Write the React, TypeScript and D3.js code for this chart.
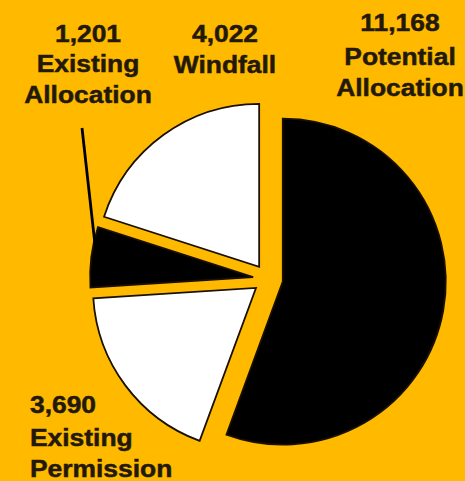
import React from "react";
import * as d3 from "d3";

const categories = ["Potential Allocation", "Existing Permission", "Existing Allocation", "Windfall"];
const values = [11168, 3690, 1201, 4022];
const fills = ["#000000", "#ffffff", "#000000", "#ffffff"];
const valueLabels = ["11,168", "3,690", "1,201", "4,022"];

const W = 465;
const H = 481;
const CX = 268;
const CY = 279;
const R = 163;
const EXPLODE = 15;
const SX = 1.1;

const labelLayout = [
  { x: 400, anchor: "middle", ys: [31, 65, 96], lines: ["Potential", "Allocation"] },
  { x: 30, anchor: "start", ys: [413, 446, 477], lines: ["Existing", "Permission"] },
  { x: 88, anchor: "middle", ys: [42, 72, 103], lines: ["Existing", "Allocation"] },
  { x: 225, anchor: "middle", ys: [42, 73], lines: ["Windfall"] },
];

export default function App() {
  const pie = d3
    .pie<number>()
    .sort(null)
    .value((d) => d)
    .startAngle(0)
    .endAngle(2 * Math.PI);
  const arcs = pie(values);
  const arc = d3.arc<d3.PieArcDatum<number>>().innerRadius(0).outerRadius(R);

  // leader line for Existing Allocation: from label into the slice
  const ea = arcs[2];
  const eaMid = (ea.startAngle + ea.endAngle) / 2;
  const eaOx = CX + Math.sin(eaMid) * EXPLODE;
  const eaOy = CY - Math.cos(eaMid) * EXPLODE;
  const leadA = eaMid + 0.05;
  const leadEnd = [eaOx + Math.sin(leadA) * (R - 3), eaOy - Math.cos(leadA) * (R - 3)];

  return (
    <svg
      width={W}
      height={H}
      style={{ position: "absolute", left: 0, top: 0, display: "block" }}
    >
      <rect x={0} y={0} width={W} height={H} fill="#FFBA00" />
      {arcs.map((a, i) => {
        const mid = (a.startAngle + a.endAngle) / 2;
        const dx = Math.sin(mid) * EXPLODE;
        const dy = -Math.cos(mid) * EXPLODE;
        return (
          <path
            key={categories[i]}
            d={arc(a) || ""}
            transform={`translate(${CX + dx},${CY + dy})`}
            fill={fills[i]}
            stroke="#1a1000"
            strokeWidth={1.8}
            strokeLinejoin="miter"
          />
        );
      })}
      <line
        x1={82}
        y1={128}
        x2={leadEnd[0]}
        y2={leadEnd[1]}
        stroke="#000"
        strokeWidth={2.8}
      />
      {labelLayout.map((l, i) => (
        <g key={categories[i]} transform={`translate(${l.x},0) scale(${SX},1)`}>
          <text
            textAnchor={l.anchor as any}
            fontFamily="'Liberation Sans', Arial, sans-serif"
            fontWeight="bold"
            fontSize={24}
            fill="#23190a"
            stroke="#23190a"
            strokeWidth={0.5}
          >
            <tspan x={0} y={l.ys[0]}>{valueLabels[i]}</tspan>
            {l.lines.map((t, j) => (
              <tspan key={j} x={0} y={l.ys[j + 1]}>
                {t}
              </tspan>
            ))}
          </text>
        </g>
      ))}
    </svg>
  );
}
